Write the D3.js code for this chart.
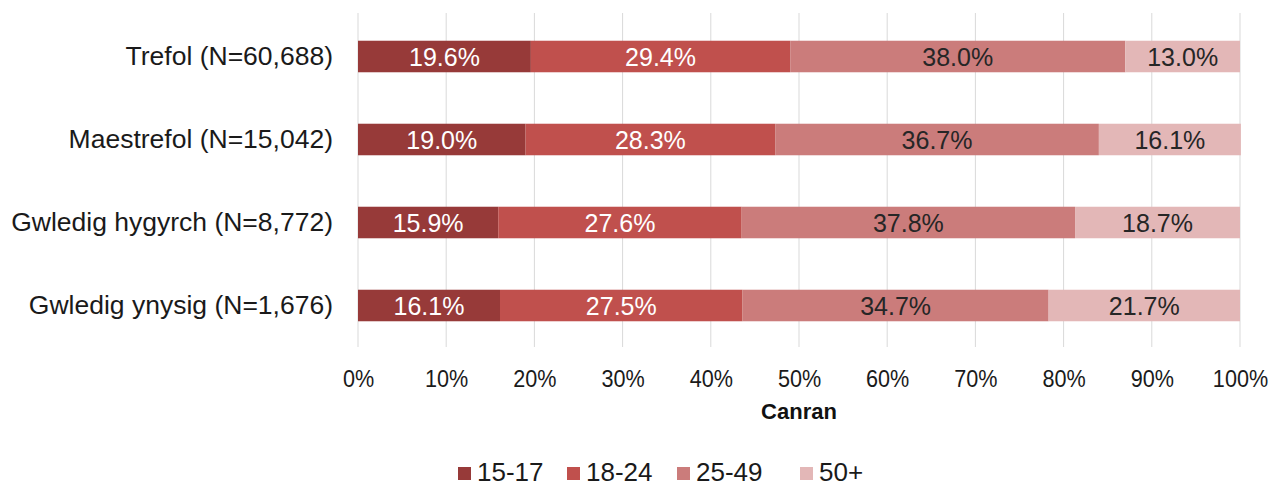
<!DOCTYPE html>
<html><head><meta charset="utf-8">
<script src="https://cdn.jsdelivr.net/npm/d3@7"></script>
<style>body{margin:0;background:#fff}svg{display:block;font-family:"Liberation Sans",Arial,sans-serif}</style>
</head><body><svg id="c" width="1276" height="500"></svg>
<script>
const categories = ["Trefol (N=60,688)", "Maestrefol (N=15,042)", "Gwledig hygyrch (N=8,772)", "Gwledig ynysig (N=1,676)"];
const seriesNames = ["15-17", "18-24", "25-49", "50+"];
const v1517 = [19.6, 19.0, 15.9, 16.1];
const v1824 = [29.4, 28.3, 27.6, 27.5];
const v2549 = [38.0, 36.7, 37.8, 34.7];
const v50 = [13.0, 16.1, 18.7, 21.7];
const tickValues = [0,10,20,30,40,50,60,70,80,90,100];
const colors = ["#973a39", "#c0504d", "#cb7c7b", "#e3b7b7"];
const labelColors = ["#ffffff", "#ffffff", "#262626", "#262626"];

const seriesVals = [v1517, v1824, v2549, v50];
const rows = categories.map((c,i)=>{const o={cat:c}; seriesNames.forEach((s,j)=>o[s]=seriesVals[j][i]); return o;});
const stack = d3.stack().keys(seriesNames)(rows);

const svg = d3.select("#c");
const x = d3.scaleLinear().domain([0,100]).range([358,1240]);
const y = d3.scaleBand().domain(categories).range([15,347]).paddingInner(0.62).paddingOuter(0.31);

// gridlines
svg.append("g").selectAll("line").data(tickValues).join("line")
  .attr("x1",d=>x(d)).attr("x2",d=>x(d)).attr("y1",13).attr("y2",347)
  .attr("stroke","#d9d9d9").attr("stroke-width",1);

// bars
const layers = svg.append("g").selectAll("g").data(stack).join("g").attr("fill",(d,i)=>colors[i]);
layers.selectAll("rect").data(d=>d.map(p=>({p,cat:p.data.cat}))).join("rect")
  .attr("x",d=>x(d.p[0])).attr("width",d=>x(d.p[1])-x(d.p[0]))
  .attr("y",d=>y(d.cat)).attr("height",y.bandwidth());

// labels
svg.append("g").selectAll("g").data(stack).join("g").attr("fill",(d,i)=>labelColors[i])
  .selectAll("text").data(d=>d.map(p=>({p,cat:p.data.cat}))).join("text")
  .attr("x",d=>(x(d.p[0])+x(d.p[1]))/2).attr("y",d=>y(d.cat)+y.bandwidth()/2)
  .attr("text-anchor","middle").attr("dy","0.36em").attr("font-size",25)
  .text(d=>(d.p[1]-d.p[0]).toFixed(1)+"%");

// y axis labels
const ya = svg.append("g").attr("transform",`translate(${x(0)},0)`).call(d3.axisLeft(y).tickSize(0).tickPadding(25));
ya.select(".domain").remove();
ya.selectAll("text").attr("font-size",26.5).attr("fill","#1a1a1a").attr("font-family","Liberation Sans, Arial, sans-serif");

// x axis
const xa = svg.append("g").attr("transform","translate(0,347)").call(d3.axisBottom(x).tickValues(tickValues).tickSize(0).tickPadding(0).tickFormat(d=>d+"%"));
xa.select(".domain").remove();
xa.selectAll("text").attr("font-size",24).attr("fill","#1a1a1a").attr("font-family","Liberation Sans, Arial, sans-serif")
  .attr("dy",null).attr("y",34).attr("dominant-baseline","middle")
  .each(function(){const w=this.getComputedTextLength(); d3.select(this).attr("textLength",w*0.9).attr("lengthAdjust","spacingAndGlyphs");});

svg.append("text").attr("x",x(50)).attr("y",419).attr("text-anchor","middle")
  .attr("font-size",22).attr("font-weight","bold").attr("fill","#111").text("Canran");

// legend
const legX = [458, 567, 677, 800];
const lg = svg.append("g").selectAll("g").data(seriesNames).join("g")
  .attr("transform",(d,i)=>`translate(${legX[i]},472)`);
lg.append("rect").attr("x",0).attr("y",-5).attr("width",13).attr("height",13).attr("fill",(d,i)=>colors[i]);
lg.append("text").attr("x",19).attr("dy","0.36em").attr("font-size",26).attr("fill","#1a1a1a").text(d=>d);
</script></body></html>
